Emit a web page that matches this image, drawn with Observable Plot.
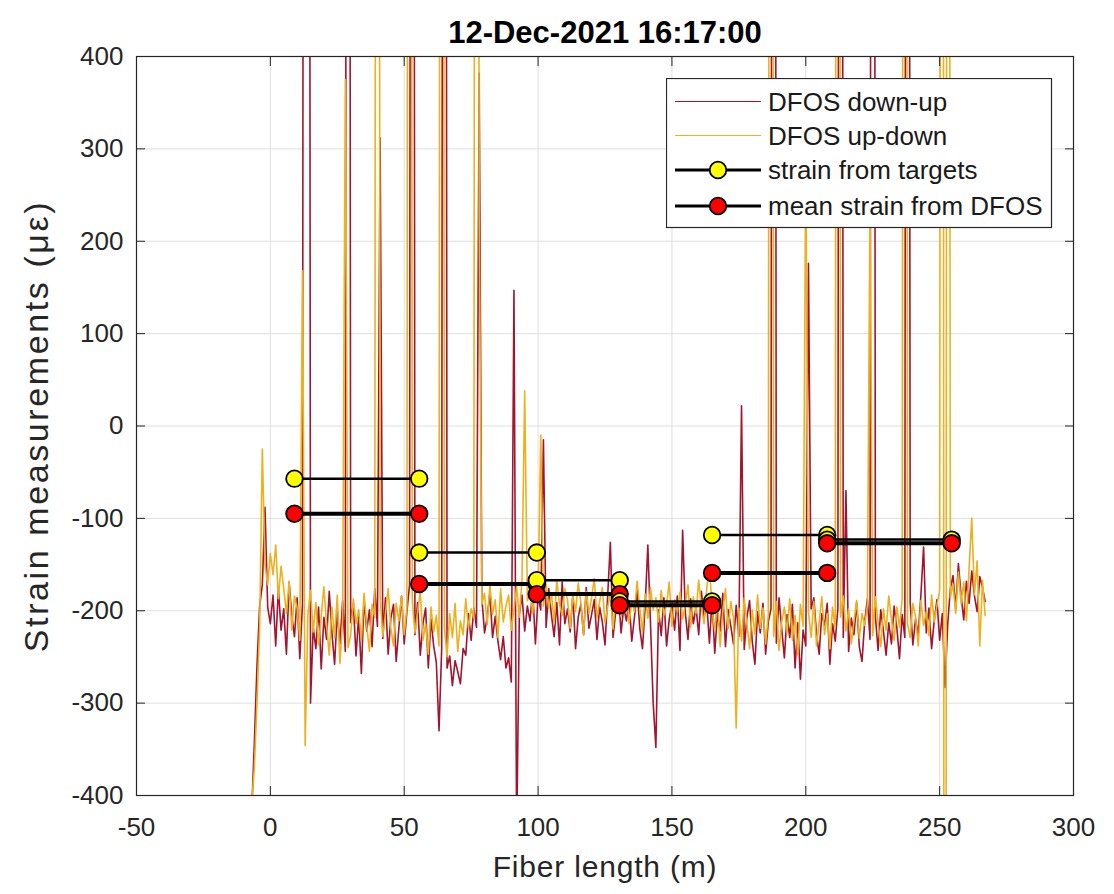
<!DOCTYPE html>
<html>
<head>
<meta charset="utf-8">
<script src="https://cdn.jsdelivr.net/npm/d3@7"></script>
<script src="https://cdn.jsdelivr.net/npm/@observablehq/plot@0.6"></script>
<style>
  body { margin: 0; background: #fff; }
  #chart { position: relative; width: 1114px; height: 894px; font-family: "Liberation Sans", Arial, sans-serif; }
</style>
</head>
<body>
<div id="chart"></div>
<script>
// Labels and ticks
const title = "12-Dec-2021 16:17:00";
const xLabel = "Fiber length (m)";
const yLabel = "Strain measurements (με)";
const xTicks = [-50, 0, 50, 100, 150, 200, 250, 300];
const yTicks = [-400, -300, -200, -100, 0, 100, 200, 300, 400];
const seriesNames = ["DFOS down-up", "DFOS up-down", "strain from targets", "mean strain from DFOS"];

// DFOS strain profiles (µε), sampled every metre along the fibre from -7 m
const fiberStart = -7;
const fiberStep = 1;
const dfosDownUp = [
  -420, -345, -260, -195, -172, -88, -196, -214, -183, -238,
  -176, -221, -198, -247, -169, -205, -228, -186, -252, -193,
  3000, 3000, -300, -218, -241, -196, -263, -207, -231, -179,
  -224, -258, -201, -236, -189, -244, 3000, -213, -192, -249,
  -205, -268, -187, -222, -199, -239, -176, -217, 312, -230,
  -186, -247, -208, -193, -255, -219, -184, -236, -201, -172,
  3000, -226, -191, -248, -214, -197, -262, -209, -238, -256,
  -330, -241, 3000, -262, -249, -281, -254, -266, -279, -241,
  -248, -203, -232, -197, -218, 382, -186, -224, -207, -181,
  -229, -206, -233, -253, -228, -262, -251, -277, 147, -450,
  -204, -183, -222, -195, -211, -178, -236, -184, -199, -15,
  -218, -176, -205, -228, -191, -237, -169, -214, -198, -223,
  -182, -241, -207, -193, -226, -175, -219, -204, -188, -231,
  -196, -212, -237, -184, -126, -229, -201, -178, -224, -196,
  -211, -189, -233, -207, -178, -219, -241, -195, -129, -214,
  -300, -348, -199, -227, -186, -238, -209, -192, -221, -184,
  -243, -113, -202, -231, -187, -214, -196, -226, -179, -208,
  -191, -235, -188, -246, -203, -222, -181, -239, -199, -217,
  -236, -194, -228, 22, -242, -207, -189, -233, -258, -201,
  -224, -192, -247, -212, -198, 3000, -235, -186, -219, -251,
  -204, -229, -193, -262, -213, -274, -221, -238, 176, -198,
  -186, -225, -247, -203, -216, -192, -258, -214, -233, -197,
  3000, -229, -70, -244, -208, -226, -191, -239, -255, -212,
  -187, -231, 3000, -206, -243, -199, -222, -248, -213, -236,
  -195, -218, -252, -204, -229, 3000, -191, -237, -209, -226,
  -183, -131, -224, -197, -241, -210, -188, -232, -203, -283,
  -215, -176, -162, -198, -149, -183, -210, -168, -192, -157,
  -184, -201, -163, -175, -190
];
const dfosUpDown = [
  -410, -371, -300, -218, -25, -150, -172, -138, -161, -129,
  -187, -152, -176, -203, -168, -221, -184, -197, -232, 168,
  -346, -205, -178, -223, -191, -237, -206, -174, -215, -248,
  -196, -229, -183, -257, -210, 375, -240, -226, -187, -214,
  -199, -232, -181, -216, -244, -193, -207, 3000, -185, -228,
  -203, -176, -219, -238, -192, -211, -184, -226, -197, 3000,
  -188, -224, -201, -179, -232, -214, -247, -196, -223, -205,
  -238, 3000, -217, -250, -203, -229, -192, -244, -211, -226,
  -187, -219, -198, -208, 3000, 226, -193, -181, -215, -172,
  -204, -188, -229, -176, -212, -195, -183, -221, -198, -174,
  -207, -166, 38, -189, -178, -203, -162, -187, -10, -195,
  -172, -198, -181, -214, -167, -193, -205, -176, -188, -219,
  -183, -201, -170, -192, -226, -179, -203, -186, -165, -208,
  -190, -175, -213, -196, -181, -220, -188, -171, -206, -192,
  -177, -214, -189, -201, -168, -197, -223, -182, -208, -175,
  -199, -186, -212, -178, -205, -193, -169, -217, -188, -201,
  -180, -209, -194, -172, -218, -185, -203, -167, -196, -214,
  -176, -151, -197, -222, -185, -239, -201, -176, -219, -190,
  -208, -327, -197, -233, -186, -214, -241, -199, -226, -183,
  -219, -197, -236, -204, 3000, -228, -190, -243, -212, -196,
  -224, -187, -232, -205, -248, -193, -217, 300, -201, -229,
  -190, -238, -212, -185, -226, -203, -241, -196, -219, 3000,
  -207, -184, -222, -198, -236, -211, -189, -230, -203, -216,
  -194, 250, -227, -185, -213, -239, -198, -221, -184, -209,
  -232, -196, -218, -187, 3000, -214, -229, -192, -207, -238,
  -189, -216, -201, -227, -183, -212, -194, -178, 3000, -3000,
  3000, -186, -171, -203, -158, -192, -169, -211, -154, -100,
  -183, -146, -238, -167, -205
];

// Sections between survey targets (m) and their strains (µε)
const sectionStart = [9, 55.6, 99.5, 130.5, 165, 208];
const sectionEnd = [55.6, 99.5, 130.5, 165, 208, 254.5];
const targetStrain = [-57, -137, -167, -190, -118, -123];
const dfosMeanStrain = [-95, -171, -182, -194, -159, -127];

const downUpColor = "#a2142f";
const upDownColor = "#edb120";
const targetFill = "#ffff00";
const meanFill = "#ff0000";

const rows = dfosDownUp.map((v, i) => ({x: fiberStart + i * fiberStep, downUp: v, upDown: dfosUpDown[i]}));
const sections = sectionStart.map((s, i) => ({x1: s, x2: sectionEnd[i], target: targetStrain[i], mean: dfosMeanStrain[i]}));

// One section at a time: target strain first, then the DFOS mean on top
const sectionMarks = sections.flatMap(s => [
  Plot.link([s], {x1: "x1", x2: "x2", y1: "target", y2: "target", stroke: "black", strokeWidth: 2.5}),
  Plot.dot([{x: s.x1, y: s.target}, {x: s.x2, y: s.target}], {x: "x", y: "y", r: 8.3, fill: targetFill, stroke: "black", strokeWidth: 1.8}),
  Plot.link([s], {x1: "x1", x2: "x2", y1: "mean", y2: "mean", stroke: "black", strokeWidth: 4}),
  Plot.dot([{x: s.x1, y: s.mean}, {x: s.x2, y: s.mean}], {x: "x", y: "y", r: 8.3, fill: meanFill, stroke: "black", strokeWidth: 1.8})
]);

const chart = Plot.plot({
  width: 1114,
  height: 894,
  marginLeft: 136,
  marginRight: 41,
  marginTop: 56,
  marginBottom: 99,
  x: {domain: [-50, 300]},
  y: {domain: [-400, 400]},
  style: {fontFamily: "'Liberation Sans', Arial, sans-serif", fontSize: "26px", color: "#262626", background: "white", overflow: "visible"},
  marks: [
    Plot.gridX(xTicks, {stroke: "#dfdfdf", strokeOpacity: 1}),
    Plot.gridY(yTicks, {stroke: "#dfdfdf", strokeOpacity: 1}),
    Plot.line(rows, {x: "x", y: "downUp", stroke: downUpColor, strokeWidth: 1.6, clip: true}),
    Plot.line(rows, {x: "x", y: "upDown", stroke: upDownColor, strokeWidth: 1.6, clip: true}),
    ...sectionMarks,
    Plot.frame({stroke: "#262626", strokeWidth: 1.2}),
    Plot.axisX(xTicks, {anchor: "bottom", tickSize: -9, tickPadding: 31, tickFormat: d => String(d), fontSize: 26, label: null}),
    Plot.axisX(xTicks, {anchor: "top", tickSize: -9, tickFormat: () => "", label: null}),
    Plot.axisY(yTicks, {anchor: "left", tickSize: -9, tickPadding: 22, tickFormat: d => String(d), fontSize: 26, label: null}),
    Plot.axisY(yTicks, {anchor: "right", tickSize: -9, tickFormat: () => "", label: null}),
    Plot.text([title], {text: d => d, frameAnchor: "top", lineAnchor: "middle", dy: -23, fontSize: 31, fontWeight: "bold", fill: "black"}),
    Plot.text([xLabel], {text: d => d, frameAnchor: "bottom", lineAnchor: "middle", dy: 72, fontSize: 30}),
    Plot.text([yLabel], {text: d => d, frameAnchor: "left", textAnchor: "middle", lineAnchor: "middle", dx: -99, rotate: -90, fontSize: 34})
  ]
});

// Slightly wider tracking on the axis titles
d3.select(chart).selectAll("text")
  .filter(function() { return this.textContent === xLabel; })
  .style("letter-spacing", "0.8px");
d3.select(chart).selectAll("text")
  .filter(function() { return this.textContent === yLabel; })
  .style("letter-spacing", "2.6px");

const root = document.getElementById("chart");
root.appendChild(chart);

// Legend box in the upper right of the axes
const legendRows = [23.5, 57.5, 92, 128];
const legend = d3.create("svg")
  .attr("width", 387)
  .attr("height", 151)
  .style("position", "absolute")
  .style("left", "666px")
  .style("top", "78px")
  .style("font-family", "'Liberation Sans', Arial, sans-serif");
legend.append("rect")
  .attr("x", 0.5).attr("y", 0.5)
  .attr("width", 385).attr("height", 149)
  .attr("fill", "white").attr("stroke", "#262626").attr("stroke-width", 1.2);

const entries = [
  {name: seriesNames[0], stroke: downUpColor, width: 1.2, fill: null},
  {name: seriesNames[1], stroke: upDownColor, width: 1.2, fill: null},
  {name: seriesNames[2], stroke: "black", width: 3, fill: targetFill},
  {name: seriesNames[3], stroke: "black", width: 3, fill: meanFill}
];
entries.forEach((e, i) => {
  const g = legend.append("g").attr("transform", `translate(0,${legendRows[i]})`);
  g.append("line").attr("x1", 9).attr("x2", 95).attr("y1", 0).attr("y2", 0)
    .attr("stroke", e.stroke).attr("stroke-width", e.width);
  if (e.fill) {
    g.append("circle").attr("cx", 52).attr("cy", 0).attr("r", 8.3)
      .attr("fill", e.fill).attr("stroke", "black").attr("stroke-width", 1.8);
  }
  g.append("text").attr("x", 102).attr("y", 0).attr("dy", "0.35em")
    .attr("font-size", 26).attr("fill", "#1a1a1a").text(e.name);
});
root.appendChild(legend.node());
</script>
</body>
</html>
